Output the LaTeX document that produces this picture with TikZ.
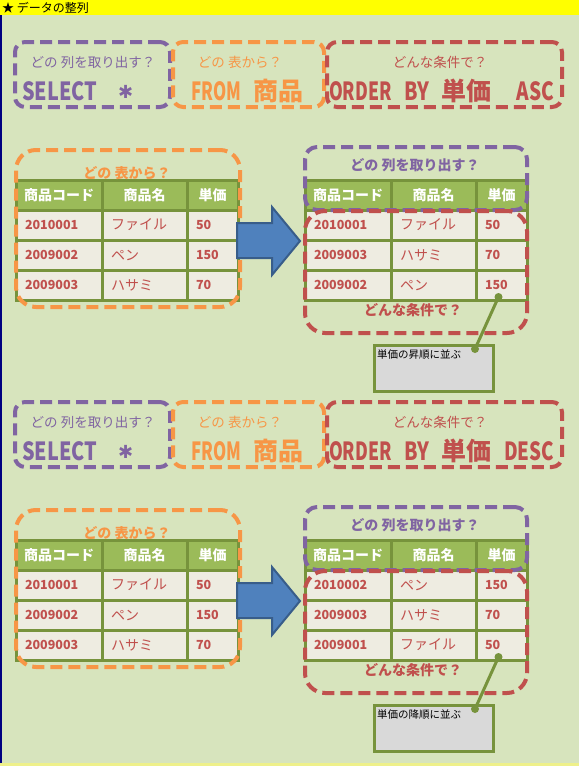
\documentclass[tikz,border=0pt]{standalone}
\usepackage{fontspec}
\setmainfont{Noto Sans CJK JP}
\newfontfamily\djv{DejaVu Sans}
\usepackage{graphicx}
\definecolor{bgc}{HTML}{D7E4BD}
\definecolor{vpurple}{HTML}{8064A2}
\definecolor{vorange}{HTML}{F79646}
\definecolor{vred}{HTML}{C0504D}
\definecolor{olive}{HTML}{77933C}
\definecolor{hdr}{HTML}{9BBB59}
\definecolor{bodyc}{HTML}{EEECE1}
\definecolor{arrfill}{HTML}{4F81BD}
\definecolor{arrline}{HTML}{385D8A}
\definecolor{callgray}{HTML}{D9D9D9}
\definecolor{navyc}{HTML}{000080}
\definecolor{paley}{HTML}{EEF08A}
\definecolor{titley}{HTML}{FFFF00}
\newcommand\sqlfit[2]{\resizebox{#1}{\height}{#2}}
\newcommand\sqlstar{\raisebox{2pt}{\djv\fontsize{18}{18}\selectfont ✱}}
\tikzset{
  qbox/.style={draw, line width=4pt, dash pattern=on 12pt off 6pt, rounded corners=10pt,
    anchor=north west, inner sep=0pt, outer sep=0pt},
  qlabel/.style={font=\fontsize{13.5}{14}\selectfont, inner sep=0pt},
  tlabel/.style={font=\fontsize{14}{15}\selectfont\bfseries, inner sep=0pt},
  sql/.style={anchor=base west, inner sep=0pt, font=\fontsize{25}{25}\selectfont\bfseries},
  cell/.style={draw=olive, line width=3pt, minimum height=30pt, inner sep=0pt, outer sep=0pt, anchor=north west},
  hcell/.style={cell, fill=hdr, text=white, font=\fontsize{14}{15}\selectfont\bfseries, align=center},
  bcell/.style={cell, fill=bodyc, text=vred, align=left, inner xsep=9pt},
  numc/.style={bcell, font=\fontsize{12.5}{13}\selectfont\bfseries},
  kanac/.style={bcell, font=\fontsize{14}{15}\selectfont},
  cbox/.style={draw=olive, line width=3pt, fill=callgray, anchor=north west, inner sep=0pt, outer sep=0pt},
  bigarrow/.style={fill=arrfill, draw=arrline, line width=2pt, line join=miter},
}
\newcommand\toprow[2]{%
  \node[qbox,draw=vpurple,minimum width=155pt,minimum height=65pt] (#1sel) at (15,42) {};
  \node[qbox,draw=vorange,minimum width=151pt,minimum height=65pt] (#1frm) at (173,42) {};
  \node[qbox,draw=vred,minimum width=235pt,minimum height=65pt] (#1ord) at (327,42) {};
  \node[qlabel,text=vpurple] (#1selq) at (93,62) {どの 列を取り出す？};
  \node[qlabel,text=vorange] (#1frmq) at (240,62) {どの 表から？};
  \node[qlabel,text=vred] (#1ordq) at (440,62) {どんな条件で？};
  \node[sql,text=vpurple] (#1selt) at (22,100) {\sqlfit{75pt}{SELECT}\hspace{21pt}\sqlstar};
  \node[sql,text=vorange] (#1frmt) at (191,100) {\sqlfit{50pt}{FROM}\hspace{12.5pt}商品};
  \node[sql,text=vred] (#1ordt) at (329,100) {#2};
}
\newcommand\thead[3]{%
  \node[hcell,minimum width=86pt] (#1h1) at (#2,#3) {商品コード};
  \node[hcell,minimum width=85pt] (#1h2) at (#1h1.north east) {商品名};
  \node[hcell,minimum width=51pt] (#1h3) at (#1h2.north east) {単価};
}
\newcommand\trow[5]{%
  \node[numc,text width=68pt] (#1a) at (#2.south west) {#3};
  \node[kanac,text width=67pt] (#1b) at (#1a.north east) {#4};
  \node[numc,text width=33pt] (#1c) at (#1b.north east) {#5};
}
\newcommand\callout[3]{%
  \node[cbox,minimum width=119pt,minimum height=46pt] (#1box) at (374,345) {};
  \node[anchor=north west, inner sep=0pt, font=\fontsize{10.5}{11}\selectfont] (#1txt)
     at ([xshift=3pt,yshift=-4pt]#1box.north west) {#2};
  \coordinate (#1tip) at ([xshift=-3pt,yshift=3pt]#3.south);
  \coordinate (#1end) at ([xshift=101pt,yshift=-4pt]#1box.north west);
  \draw[olive,line width=3pt] (#1tip) -- (#1end);
  \fill[olive] (#1tip) circle (4pt) (#1end) circle (4pt);
}
\newcommand\bigarr[1]{%
  \coordinate (#1a) at (237,223);
  \coordinate (#1b) at (272,223);
  \coordinate (#1c) at (272,207);
  \coordinate (#1d) at (300,241);
  \coordinate (#1e) at (272,275);
  \coordinate (#1f) at (272,258);
  \coordinate (#1g) at (237,258);
  \draw[bigarrow] (#1a) -- (#1b) -- (#1c) -- (#1d) -- (#1e) -- (#1f) -- (#1g) -- cycle;
}
\newcommand\orderby{\sqlfit{62.5pt}{ORDER}\hspace{12.5pt}\sqlfit{25pt}{BY}\hspace{12.5pt}単価}
\begin{document}
\begin{tikzpicture}[x=1pt,y=-1pt]
\useasboundingbox (0,0) rectangle (579,766);
\fill[bgc] (0,0) rectangle (579,766);
\fill[titley] (0,0) rectangle (579,15);
\fill[navyc] (0,15) rectangle (2,763);
\fill[paley] (0,763) rectangle (579,766);
\node[anchor=west, inner sep=0pt, font=\fontsize{12}{12}\selectfont] (title) at (2,7.5) {★ データの整列};

% ---------- section 1 ----------
\begin{scope}
\toprow{A}{\orderby\hspace{25pt}\sqlfit{37.5pt}{ASC}}
% left table
\thead{AL}{16}{180}
\trow{ALr1}{ALh1}{2010001}{ファイル}{50}
\trow{ALr2}{ALr1a}{2009002}{ペン}{150}
\trow{ALr3}{ALr2a}{2009003}{ハサミ}{70}
\node[qbox,draw=vorange,rounded corners=20pt,minimum width=224pt,minimum height=157pt] (ALbox) at (16,150) {};
\node[tlabel,text=vorange] (ALq) at (127,173) {どの 表から？};
\bigarr{AAr}
% right table
\thead{AR}{305}{180}
\trow{ARr1}{ARh1}{2010001}{ファイル}{50}
\trow{ARr2}{ARr1a}{2009003}{ハサミ}{70}
\trow{ARr3}{ARr2a}{2009002}{ペン}{150}
\node[qbox,draw=vpurple,rounded corners=12pt,minimum width=222pt,minimum height=63pt] (ARsel) at (305,147) {};
\node[tlabel,text=vpurple] (ARselq) at (415,165) {どの 列を取り出す？};
\node[qbox,draw=vred,rounded corners=20pt,minimum width=222pt,minimum height=122pt] (ARord) at (305,211) {};
\node[tlabel,text=vred] (ARordq) at (413,310) {どんな条件で？};
\callout{AC}{単価の昇順に並ぶ}{ARr3c}
\end{scope}

% ---------- section 2 ----------
\begin{scope}[yshift=-360pt]
\toprow{B}{\orderby\hspace{12.5pt}\sqlfit{50pt}{DESC}}
\thead{BL}{16}{180}
\trow{BLr1}{BLh1}{2010001}{ファイル}{50}
\trow{BLr2}{BLr1a}{2009002}{ペン}{150}
\trow{BLr3}{BLr2a}{2009003}{ハサミ}{70}
\node[qbox,draw=vorange,rounded corners=20pt,minimum width=224pt,minimum height=157pt] (BLbox) at (16,150) {};
\node[tlabel,text=vorange] (BLq) at (127,173) {どの 表から？};
\bigarr{BAr}
\thead{BR}{305}{180}
\trow{BRr1}{BRh1}{2010002}{ペン}{150}
\trow{BRr2}{BRr1a}{2009003}{ハサミ}{70}
\trow{BRr3}{BRr2a}{2009001}{ファイル}{50}
\node[qbox,draw=vpurple,rounded corners=12pt,minimum width=222pt,minimum height=63pt] (BRsel) at (305,147) {};
\node[tlabel,text=vpurple] (BRselq) at (415,165) {どの 列を取り出す？};
\node[qbox,draw=vred,rounded corners=20pt,minimum width=222pt,minimum height=122pt] (BRord) at (305,211) {};
\node[tlabel,text=vred] (BRordq) at (413,310) {どんな条件で？};
\callout{BC}{単価の降順に並ぶ}{BRr3c}
\end{scope}
\end{tikzpicture}
\end{document}
